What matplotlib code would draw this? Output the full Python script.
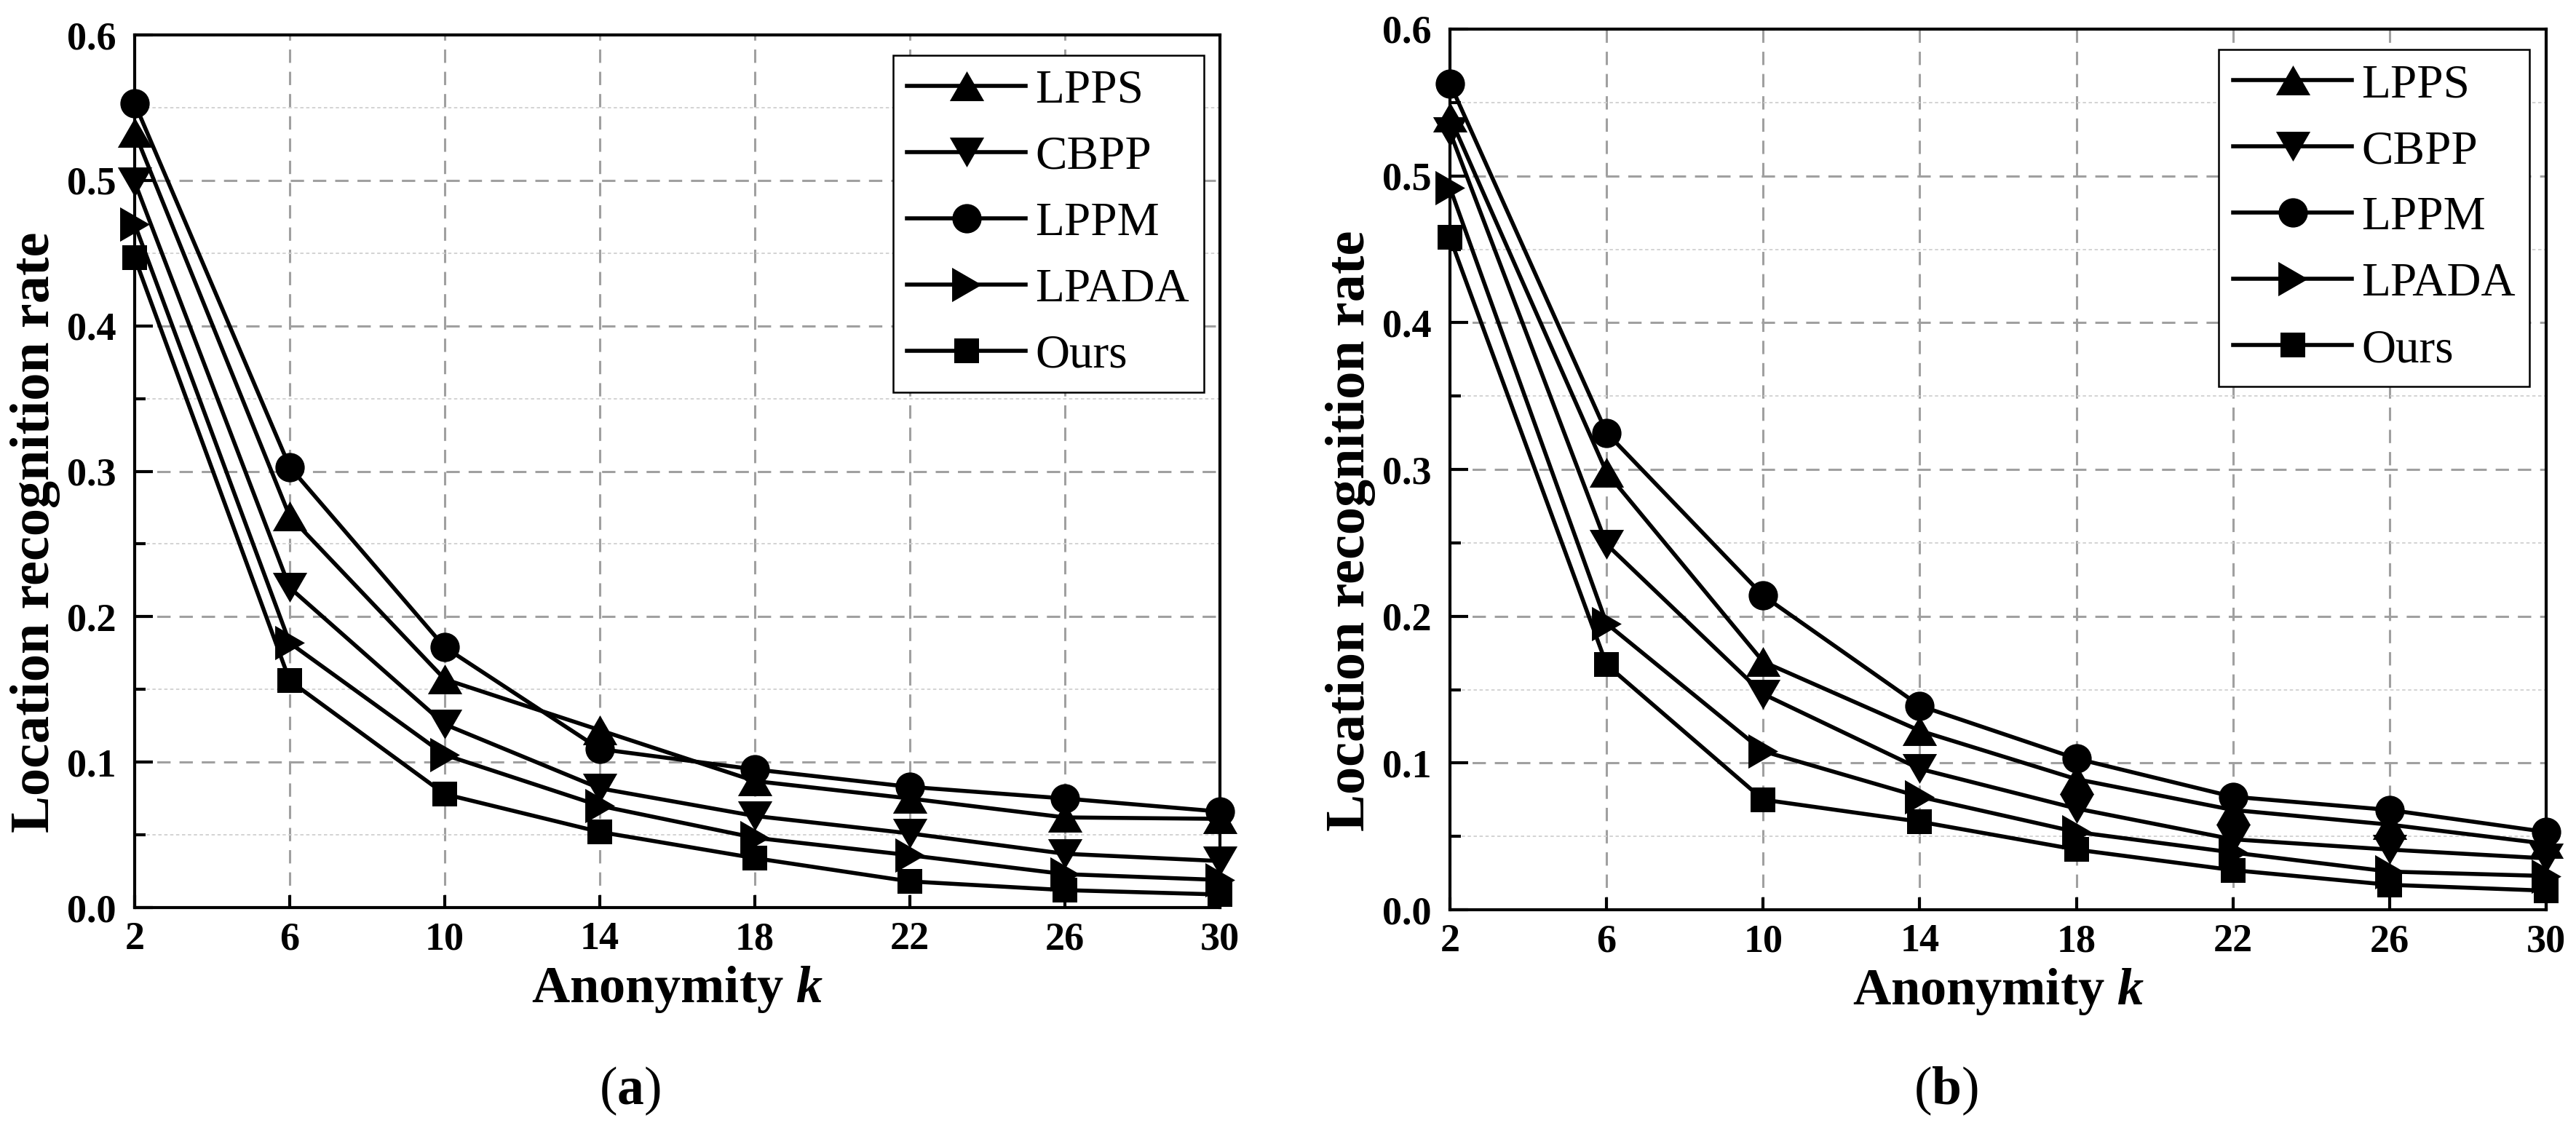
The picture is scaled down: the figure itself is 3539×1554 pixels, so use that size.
import numpy as np
import matplotlib.pyplot as plt
from matplotlib.ticker import MultipleLocator

plt.rcParams['font.family'] = ['Liberation Serif', 'DejaVu Serif']
plt.rcParams['mathtext.fontset'] = 'custom'
plt.rcParams['mathtext.rm'] = 'Liberation Serif'
plt.rcParams['mathtext.it'] = 'Liberation Serif:italic:bold'
plt.rcParams['mathtext.bf'] = 'Liberation Serif:bold'

# anonymity levels
k = [2, 6, 10, 14, 18, 22, 26, 30]

# panel (a)
lpps_a = [0.533, 0.269, 0.157, 0.122, 0.087, 0.075, 0.062, 0.061]
cbpp_a = [0.499, 0.220, 0.126, 0.082, 0.063, 0.051, 0.037, 0.032]
lppm_a = [0.553, 0.303, 0.179, 0.109, 0.095, 0.083, 0.075, 0.066]
lpada_a = [0.470, 0.182, 0.105, 0.070, 0.048, 0.036, 0.023, 0.019]
ours_a = [0.447, 0.156, 0.078, 0.052, 0.034, 0.018, 0.012, 0.009]

# panel (b)
lpps_b = [0.540, 0.298, 0.169, 0.122, 0.089, 0.068, 0.058, 0.045]
cbpp_b = [0.530, 0.249, 0.147, 0.096, 0.069, 0.048, 0.041, 0.035]
lppm_b = [0.563, 0.325, 0.214, 0.139, 0.103, 0.077, 0.068, 0.053]
lpada_b = [0.492, 0.195, 0.108, 0.077, 0.053, 0.039, 0.026, 0.023]
ours_b = [0.458, 0.167, 0.075, 0.060, 0.041, 0.027, 0.017, 0.013]

names = ["LPPS", "CBPP", "LPPM", "LPADA", "Ours"]

# marker shapes (equilateral triangles like the original)
tri_up = [(0, 0.866), (-1, -0.866), (1, -0.866), (0, 0.866)]
tri_down = [(0, -0.866), (-1, 0.866), (1, 0.866), (0, -0.866)]
tri_right = [(0.866, 0), (-0.866, 1), (-0.866, -1), (0.866, 0)]
markers = [(tri_up, 34), (tri_down, 34), ('o', 29), (tri_right, 34), ('s', 25)]

fig = plt.figure(figsize=(35.39, 15.54), dpi=100)
ax_a = fig.add_axes([0.05227, 0.19755, 0.42131, 0.77156])
ax_b = fig.add_axes([0.56287, 0.19562, 0.42554, 0.77864])


def draw(ax, series):
    for name, y, (m, ms) in zip(names, series, markers):
        ax.plot(k, y, color='black', lw=4, marker=m, ms=ms,
                markerfacecolor='black', markeredgecolor='black',
                markeredgewidth=0, label=name, clip_on=False, zorder=5)
    ax.set_xlim(2, 30)
    ax.set_ylim(0, 0.6)
    ax.set_xticks(k)
    ax.yaxis.set_major_locator(MultipleLocator(0.1))
    ax.yaxis.set_minor_locator(MultipleLocator(0.05))
    ax.set_axisbelow(True)
    ax.grid(which='major', axis='both', color='#a0a0a0', lw=2.2, ls=(0, (6, 4)))
    ax.grid(which='minor', axis='y', color='#d0d0d0', lw=1.3, ls=(0, (2.5, 2)))
    for s in ax.spines.values():
        s.set_linewidth(3)
    ax.tick_params(axis='y', which='major', direction='in', length=18, width=3,
                   labelsize=39, pad=18, right=False)
    ax.tick_params(axis='y', which='minor', direction='in', length=11, width=3, right=False)
    ax.tick_params(axis='x', which='major', direction='in', length=12, width=3,
                   labelsize=39, pad=14, top=False)
    for t in ax.get_xticklabels() + ax.get_yticklabels():
        t.set_fontweight('bold')
    ax.set_xlabel(r'Anonymity $k$', fontsize=52, fontweight='bold', labelpad=6)
    ax.set_ylabel('Location recognition rate', fontsize=55, fontweight='bold')
    # label sits a little below the axes centre in the original
    ax.yaxis.set_label_coords(-102 / (ax.get_position().width * 3539), 0.43)
    leg = ax.legend(loc='upper right', bbox_to_anchor=(0.985, 0.977), borderaxespad=0,
                    fontsize=47, frameon=True, fancybox=False, edgecolor='black',
                    framealpha=1, handlelength=2.5, handletextpad=0.2,
                    labelspacing=0.48, borderpad=0.3)
    leg.get_frame().set_linewidth(1.8)
    leg.set_zorder(10)


draw(ax_a, [lpps_a, cbpp_a, lppm_a, lpada_a, ours_a])
draw(ax_b, [lpps_b, cbpp_b, lppm_b, lpada_b, ours_b])

fig.text(0.2445, 0.0354, r'($\mathbf{a}$)', fontsize=53, ha='center', va='center')
fig.text(0.7553, 0.0354, r'($\mathbf{b}$)', fontsize=53, ha='center', va='center')

fig.savefig('out.png', dpi=100)
